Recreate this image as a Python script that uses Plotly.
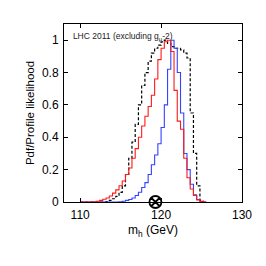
import plotly.graph_objects as go

# bin left edges (GeV), bin width 0.4
bin_edges = [110.0, 110.4, 110.8, 111.2, 111.6, 112.0, 112.4, 112.8, 113.2, 113.6,
             114.0, 114.4, 114.8, 115.2, 115.6, 116.0, 116.4, 116.8, 117.2, 117.6,
             118.0, 118.4, 118.8, 119.2, 119.6, 120.0, 120.4, 120.8, 121.2, 121.6,
             122.0, 122.4, 122.8, 123.2, 123.6, 124.0, 124.4, 124.8, 125.2, 125.6]

red_vals = [0, 0, 0, 0, 0.002, 0.005, 0.01, 0.017, 0.025, 0.037,
            0.055, 0.075, 0.10, 0.13, 0.17, 0.21, 0.27, 0.33, 0.40, 0.47,
            0.53, 0.59, 0.66, 0.76, 0.88, 0.95, 0.99, 1.0, 0.93, 0.69,
            0.50, 0.45, 0.27, 0.15, 0.08, 0.04, 0.012, 0.003, 0]

blue_vals = [0, 0, 0, 0, 0, 0, 0, 0, 0, 0,
             0, 0, 0.002, 0.005, 0.01, 0.015, 0.025, 0.04, 0.06, 0.09,
             0.12, 0.17, 0.23, 0.29, 0.36, 0.46, 0.60, 0.82, 1.0, 0.95,
             0.80, 0.55, 0.30, 0.20, 0.11, 0.045, 0.015, 0.003, 0]

dash_vals = [0, 0, 0, 0, 0, 0, 0, 0, 0.003, 0.01,
             0.02, 0.035, 0.06, 0.10, 0.17, 0.27, 0.37, 0.48, 0.60, 0.72,
             0.80, 0.87, 0.92, 0.95, 0.97, 0.99, 1.0, 0.98, 0.96, 0.95,
             0.95, 0.94, 0.92, 0.89, 0.55, 0.30, 0.10, 0.01, 0]

marker_x = [119.3]
marker_y = [0]

label_text = "LHC 2011 (excluding g<sub>μ</sub>-2)"
label_x = [109.1]
label_y = [1.02]

FONT = "Liberation Sans, Arial, sans-serif"


def step_xy(edges, vals):
    xs = list(edges[:len(vals) + 1])
    ys = list(vals) + [vals[-1]]
    return xs, ys


fig = go.Figure()

# label drawn first so curves lie over it
fig.add_trace(go.Scatter(x=label_x, y=label_y, mode="text", text=[label_text],
                         textposition="middle right",
                         textfont=dict(family=FONT, size=8.5, color="#222"),
                         hoverinfo="skip", showlegend=False, cliponaxis=False))

xs, ys = step_xy(bin_edges, dash_vals)
fig.add_trace(go.Scatter(x=xs, y=ys, mode="lines", line_shape="hv",
                         line=dict(color="black", width=1.2, dash="3px,2px"),
                         showlegend=False))
xs, ys = step_xy(bin_edges, blue_vals)
fig.add_trace(go.Scatter(x=xs, y=ys, mode="lines", line_shape="hv",
                         line=dict(color="#3344ff", width=1.1), showlegend=False))
xs, ys = step_xy(bin_edges, red_vals)
fig.add_trace(go.Scatter(x=xs, y=ys, mode="lines", line_shape="hv",
                         line=dict(color="#ff1a1a", width=1.1), showlegend=False))

fig.add_trace(go.Scatter(x=marker_x, y=marker_y, mode="markers",
                         marker=dict(symbol="circle-x-open", size=12, color="black",
                                     line=dict(width=1.8, color="black")),
                         cliponaxis=False, showlegend=False))

fig.update_layout(
    width=266, height=266,
    margin=dict(l=64, r=24, t=24, b=64, pad=0),
    paper_bgcolor="white", plot_bgcolor="white",
    font=dict(family=FONT, size=12, color="black"),
)
fig.update_xaxes(range=[108, 130], tickvals=[110, 120, 130], ticks="inside",
                 ticklen=4, tickcolor="black", showline=True, linecolor="black",
                 linewidth=1, mirror="allticks", showgrid=False, zeroline=False,
                 tickfont=dict(size=12), ticklabelstandoff=2, automargin=False,
                 title=dict(text="m<sub>h</sub> (GeV)", font=dict(size=12), standoff=4))
fig.update_yaxes(range=[0, 1.1], tickvals=[0, 0.2, 0.4, 0.6, 0.8, 1],
                 ticktext=["0", "0.2", "0.4", "0.6", "0.8", "1"], ticks="inside",
                 ticklen=4, tickcolor="black", showline=True, linecolor="black",
                 linewidth=1, mirror="allticks", showgrid=False, zeroline=False,
                 tickfont=dict(size=12), ticklabelstandoff=2, automargin=False,
                 title=dict(text="Pdf/Profile likelihood", font=dict(size=11.5), standoff=4))

fig.write_html("out.html", config={"displayModeBar": False},
               post_script="document.body.style.margin='0';document.body.style.padding='0';")
